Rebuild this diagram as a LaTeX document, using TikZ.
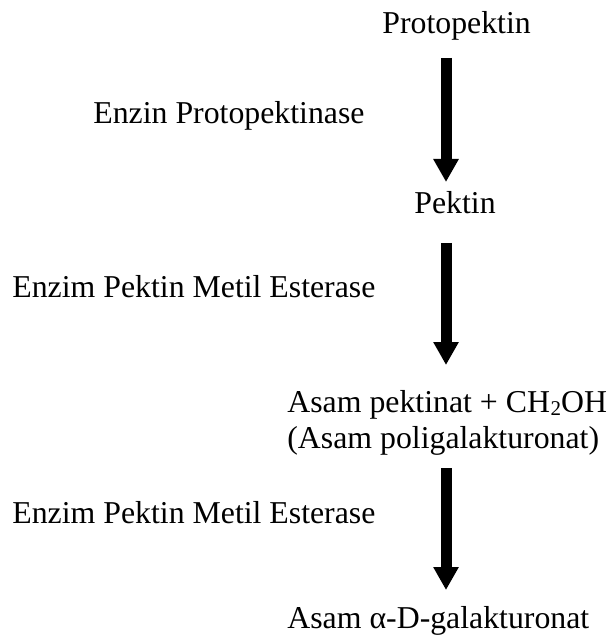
\documentclass[tikz,border=0pt]{standalone}
\usepackage{fontspec}
\setmainfont{Liberation Serif}
\usetikzlibrary{arrows.meta}
\begin{document}
\begin{tikzpicture}[x=0.5pt,y=-0.5pt,
  lbl/.style={inner sep=0pt,anchor=base west,font=\fontsize{15.9}{19}\selectfont},
  flow/.style={line width=5.5pt,-{Triangle[length=11.5pt,width=12pt]}}]
\useasboundingbox (0,0) rectangle (609,641);
\node[lbl] (proto) at (382,34) {Protopektin};
\node[lbl] (e1) at (93,124) {Enzin Protopektinase};
\node[lbl] (pektin) at (414,214) {Pektin};
\node[lbl] (e2) at (12,298) {Enzim Pektin Metil Esterase};
\node[lbl] (asam1) at (287,412) {Asam pektinat + CH\kern0.3pt\raisebox{-0.25ex}{\fontsize{10.5}{12}\selectfont 2}OH};
\node[lbl] (asam2) at (287,448) {(Asam poligalakturonat)};
\node[lbl] (e3) at (12,523) {Enzim Pektin Metil Esterase};
\node[lbl] (asam3) at (287,628) {Asam α-D-galakturonat};
\coordinate (a1s) at (446,58);
\coordinate (a1e) at (446,182);
\coordinate (a2s) at (446,243);
\coordinate (a2e) at (446,365);
\coordinate (a3s) at (446,468);
\coordinate (a3e) at (446,590);
\draw[flow] (a1s) -- (a1e);
\draw[flow] (a2s) -- (a2e);
\draw[flow] (a3s) -- (a3e);
\end{tikzpicture}
\end{document}
